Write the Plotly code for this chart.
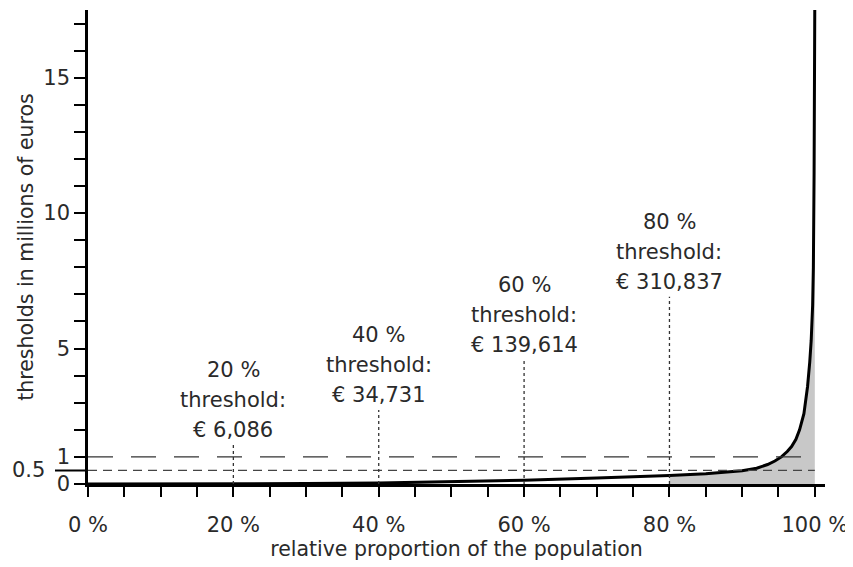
import plotly.graph_objects as go

# ---- data ----
pct = [0, 10, 20, 30, 40, 50, 60, 70, 75, 80, 85, 88, 90, 92, 93.5, 94.5, 95.4,
       96.2, 96.8, 97.4, 97.9, 98.5, 99.0, 99.3, 99.5, 99.7, 99.8, 99.9, 100]
wealth_mio = [0.0, 0.0015, 0.006, 0.017, 0.035, 0.08, 0.14, 0.22, 0.26, 0.31, 0.38,
              0.44, 0.49, 0.58, 0.72, 0.85, 1.0, 1.2, 1.38, 1.65, 2.0, 2.6, 3.6,
              4.5, 5.3, 6.6, 8.0, 11.5, 18.0]

threshold_pcts = [20, 40, 60, 80]
threshold_eur = [6086, 34731, 139614, 310837]

x_tick_vals = list(range(0, 101, 5))
x_tick_text = [f"{v} %" if v % 20 == 0 else "" for v in x_tick_vals]
y_tick_vals = list(range(0, 18))
y_labelled = [0, 1, 5, 10, 15]
y_tick_text = [str(v) if v in y_labelled else "" for v in y_tick_vals]
ref_levels = [0.5, 1.0]
fill_from = 80

# ---- layout constants ----
FONT = "DejaVu Sans"
TXT = "#2a2a2a"
label_tops = [1.44, 2.73, 4.58, 6.91]   # heights where dotted guide lines end
PLOT_W = 737

fig = go.Figure()

# shaded top-20% area
fx = [p for p in pct if p >= fill_from]
fy = [w for p, w in zip(pct, wealth_mio) if p >= fill_from]
fig.add_trace(go.Scatter(x=fx, y=fy, mode="lines", fill="tozeroy",
                         fillcolor="#c8c8c8", line=dict(width=0, color="#c8c8c8"),
                         hoverinfo="skip", showlegend=False))

# curve
fig.add_trace(go.Scatter(x=pct, y=wealth_mio, mode="lines",
                         line=dict(color="black", width=3), showlegend=False))

shapes = []
# horizontal reference lines
shapes.append(dict(type="line", xref="x", yref="y", x0=0, x1=100, y0=ref_levels[1], y1=ref_levels[1],
                   line=dict(color="#333333", width=1.3, dash="25px,18px"), layer="above"))
shapes.append(dict(type="line", xref="x", yref="y", x0=0, x1=100, y0=ref_levels[0], y1=ref_levels[0],
                   line=dict(color="#444444", width=1.3, dash="9px,6px"), layer="above"))
# long tick for 0.5
shapes.append(dict(type="line", xref="paper", yref="y", x0=-33 / PLOT_W, x1=0,
                   y0=ref_levels[0], y1=ref_levels[0], line=dict(color="black", width=2)))

annotations = []
for p, v, top in zip(threshold_pcts, threshold_eur, label_tops):
    shapes.append(dict(type="line", xref="x", yref="y", x0=p, x1=p, y0=0, y1=top,
                       line=dict(color="#333333", width=1.3, dash="3px,3px"), layer="above"))
    lines = [f"{p} %", "threshold:", f"€ {v:,}"]
    for i, t in enumerate(lines):
        annotations.append(dict(x=p, y=top, xref="x", yref="y", text=t, showarrow=False,
                                xanchor="center", yanchor="middle", yshift=75 - 30 * i,
                                font=dict(family=FONT, size=21, color=TXT)))

annotations.append(dict(x=-41 / PLOT_W, y=0.5, xref="paper", yref="y", text="0.5", showarrow=False,
                        xanchor="right", yanchor="middle",
                        font=dict(family=FONT, size=21, color=TXT)))

fig.update_layout(
    width=845, height=559,
    margin=dict(l=80, r=28, t=2, b=83),
    plot_bgcolor="white", paper_bgcolor="white",
    font=dict(family=FONT, size=21, color=TXT),
    shapes=shapes, annotations=annotations,
    showlegend=False,
)
fig.update_xaxes(range=[0, 101.4], tickvals=x_tick_vals, ticktext=x_tick_text,
                 showline=True, linecolor="black", linewidth=3, showgrid=False, zeroline=False,
                 ticks="outside", ticklen=10, tickwidth=2, tickcolor="black",
                 ticklabelstandoff=10,
                 tickfont=dict(family=FONT, size=21, color=TXT),
                 title=dict(text="relative proportion of the population",
                            font=dict(family=FONT, size=20.5, color=TXT), standoff=2))
fig.update_yaxes(range=[0, 17.5], tickvals=y_tick_vals, ticktext=y_tick_text,
                 showline=True, linecolor="black", linewidth=2.5, showgrid=False, zeroline=False,
                 ticks="outside", ticklen=11, tickwidth=2, tickcolor="black",
                 tickfont=dict(family=FONT, size=21, color=TXT),
                 title=dict(text="thresholds in millions of euros",
                            font=dict(family=FONT, size=20.5, color=TXT), standoff=5))

fig.write_html("out.html")
